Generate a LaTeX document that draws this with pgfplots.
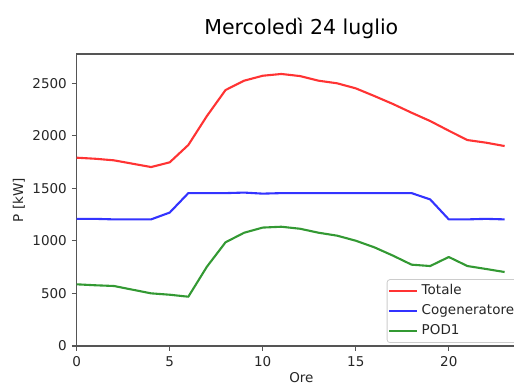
\documentclass[border=0pt]{standalone}
\usepackage{pgfplots}
\pgfplotsset{compat=1.18}
\usepackage{fontspec}
\setmainfont{DejaVu Sans}
\usetikzlibrary{calc}

% matplotlib red/blue/green drawn at 80% opacity over white
\definecolor{cTot}{RGB}{255,51,51}
\definecolor{cCog}{RGB}{51,51,255}
\definecolor{cPod}{RGB}{51,153,51}
\definecolor{spine}{RGB}{38,38,38}
\definecolor{frame}{RGB}{85,85,85}

\newcommand{\tickfont}{\fontsize{13.5}{16}\selectfont}

\begin{document}
\begin{tikzpicture}
\begin{axis}[
  scale only axis,
  width=449.3pt, height=292pt,
  xmin=0, xmax=24.15,
  ymin=0, ymax=2779,
  xtick={0,5,10,15,20},
  ytick={0,500,1000,1500,2000,2500},
  xtick pos=bottom, ytick pos=left,
  scaled ticks=false,
  /pgf/number format/assume math mode=true,
  /pgf/number format/set thousands separator={},
  tick align=outside,
  major tick length=4.9pt,
  tick style={frame, line width=1.1pt},
  axis line style={frame, line width=1.1pt},
  tick label style={font=\tickfont, text=spine},
  xticklabel style={anchor=north, inner sep=0pt, yshift=-5.8pt},
  yticklabel style={anchor=east, inner sep=0pt, xshift=-4.8pt},
  title={Mercoledì 24 luglio},
  every axis title/.style={at={(0.5,1)}, anchor=base, yshift=19.7pt,
               font=\fontsize{20.5}{24}\selectfont, text=black},
  xlabel={Ore},
  every axis x label/.style={at={(axis description cs:0.5,0)}, anchor=base,
                yshift=-36.5pt, font=\tickfont, text=spine},
  ylabel={P [kW]},
  every axis y label/.style={at={(axis description cs:-0.1284,0.5)},
                rotate=90, anchor=center, font=\tickfont, text=spine},
  legend cell align=left,
  legend style={at={(0.9844,0.0103)}, anchor=south east,
                draw=black!20, fill=white, fill opacity=0.8, text opacity=1,
                rounded corners=2.8pt, line width=0.8pt,
                font=\tickfont, text=spine,
                inner xsep=1pt, inner ysep=1.5pt,
                nodes={text height=10pt, text depth=3pt, inner sep=3.5pt}},
  legend image code/.code={\draw[#1] (0pt,0pt) -- (28pt,0pt);},
  every axis plot/.append style={line width=2.1pt, line join=round},
]
\addplot[cTot] coordinates {
  (0,1792) (1,1782) (2,1767) (3,1735) (4,1703) (5,1748) (6,1913) (7,2189)
  (8,2436) (9,2525) (10,2572) (11,2589) (12,2569) (13,2525) (14,2500) (15,2452)
  (16,2379) (17,2303) (18,2220) (19,2141) (20,2049) (21,1960) (22,1935) (23,1903)
};
\addlegendentry{Totale}
\addplot[cCog] coordinates {
  (0,1210) (1,1210) (2,1205) (3,1205) (4,1205) (5,1270) (6,1455) (7,1455)
  (8,1455) (9,1460) (10,1450) (11,1455) (12,1455) (13,1455) (14,1455) (15,1455)
  (16,1455) (17,1455) (18,1455) (19,1395) (20,1205) (21,1205) (22,1210) (23,1205)
};
\addlegendentry{Cogeneratore}
\addplot[cPod] coordinates {
  (0,587) (1,578) (2,571) (3,536) (4,501) (5,488) (6,469) (7,755)
  (8,987) (9,1078) (10,1127) (11,1135) (12,1116) (13,1078) (14,1050) (15,1002)
  (16,939) (17,860) (18,774) (19,761) (20,847) (21,761) (22,733) (23,704)
};
\addlegendentry{POD1}
\end{axis}
\pgfresetboundingbox
\useasboundingbox ($(current axis.south west)+(-76.7pt,-39pt)$)
  rectangle ($(current axis.north west)+(437.3pt,54pt)$);
\end{tikzpicture}
\end{document}
